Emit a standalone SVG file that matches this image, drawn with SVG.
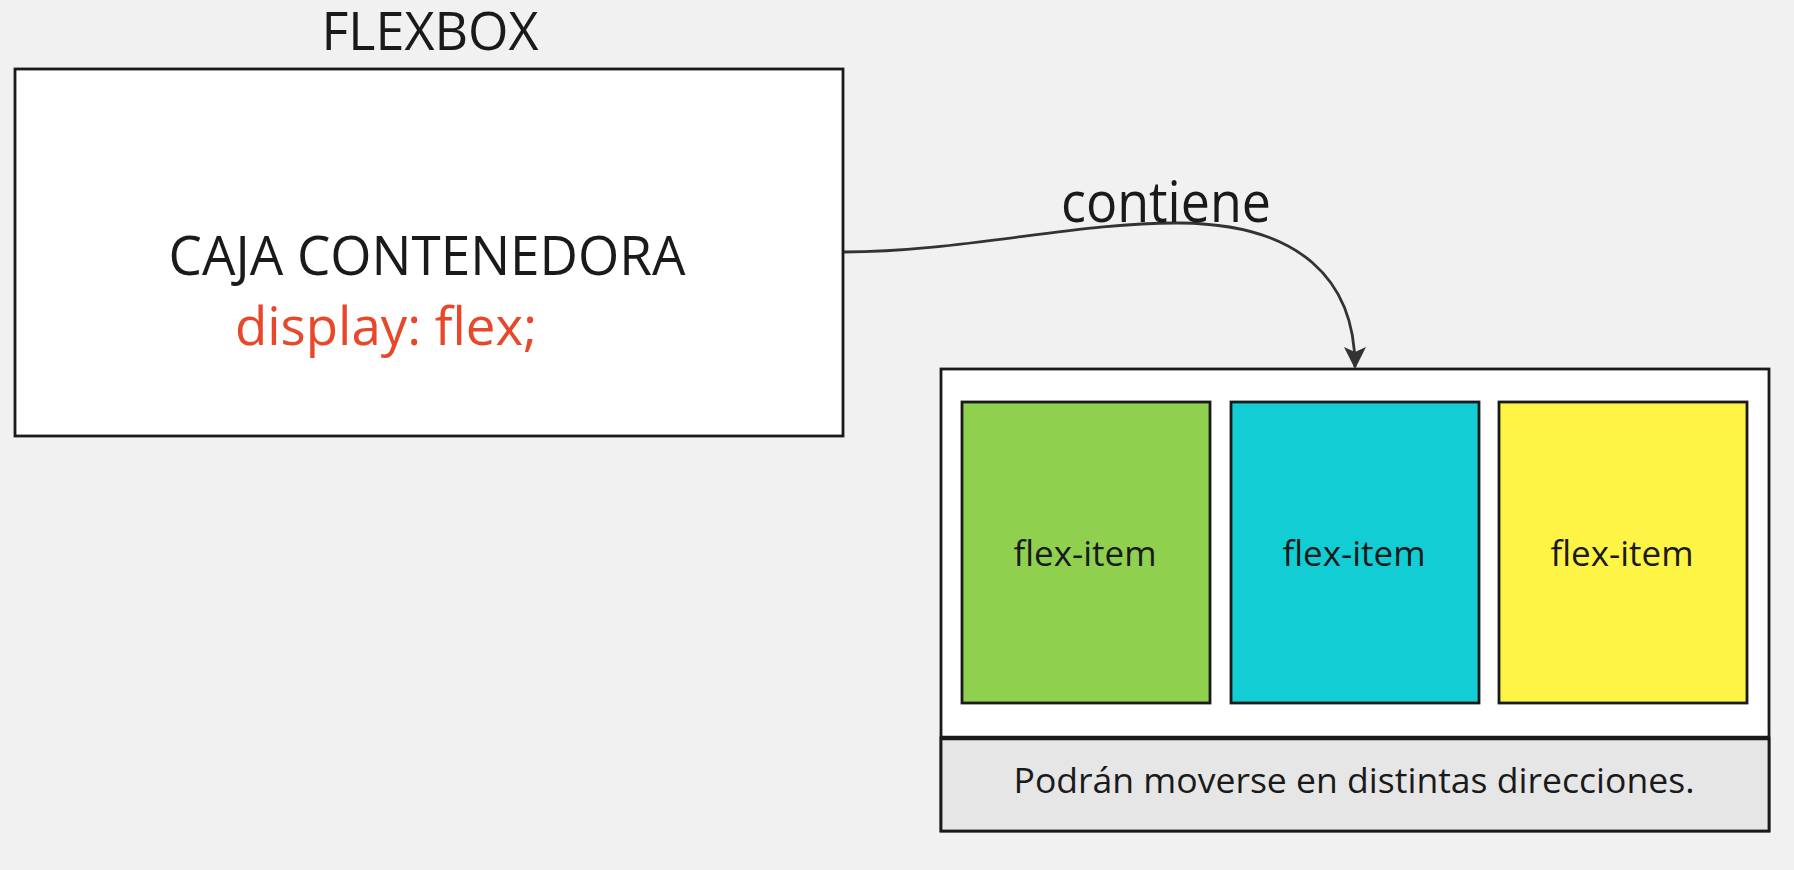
<svg xmlns="http://www.w3.org/2000/svg" width="1794" height="870" viewBox="0 0 1794 870">
<style>
.t{font-family:"Open Sans","Liberation Sans",sans-serif;fill:#1a1a1a;text-anchor:middle}
.box{stroke:#1a1a1a;stroke-width:2.8}
.conn{fill:none;stroke:#333;stroke-width:2.8}
</style>
<defs>
<marker id="arr" viewBox="0 0 22 22" refX="20" refY="11" markerWidth="22" markerHeight="22" markerUnits="userSpaceOnUse" orient="auto">
<path d="M0,0 L22,11 L0,22 L5,11 Z" fill="#333"/>
</marker>
</defs>
<rect width="1794" height="870" fill="#f1f1f1"/>
<g id="title"><text class="t" x="430" y="50" font-size="53" textLength="217" lengthAdjust="spacingAndGlyphs">FLEXBOX</text></g>
<g id="caja">
<rect class="box" x="15" y="69" width="828" height="367" fill="#ffffff"/>
<text class="t" x="427" y="275" font-size="55" textLength="517" lengthAdjust="spacingAndGlyphs">CAJA CONTENEDORA</text>
<text x="235" y="345" font-family="'Open Sans','Liberation Sans',sans-serif" font-size="53" fill="#e8472a" textLength="302" lengthAdjust="spacingAndGlyphs">display: flex;</text>
</g>
<g id="connectors">
<path class="conn" d="M844,252 C960,252 1080,222 1180,223 C1300,224 1355,280 1355,367" marker-end="url(#arr)"/>
<text class="t" x="1166" y="222" font-size="56" textLength="210" lengthAdjust="spacingAndGlyphs">contiene</text>
</g>
<g id="contenedor">
<rect class="box" x="941" y="369" width="828" height="462" fill="#ffffff"/>
<rect x="941" y="738" width="828" height="93" fill="#e6e6e6" stroke="#1a1a1a" stroke-width="2.8"/>
<line x1="941" y1="738" x2="1769" y2="738" stroke="#1a1a1a" stroke-width="4.5"/>
<text class="t" x="1354" y="793" font-size="34" textLength="681" lengthAdjust="spacingAndGlyphs">Podrán moverse en distintas direcciones.</text>
</g>
<g id="item1">
<rect class="box" x="962" y="402" width="248" height="301" fill="#8fd14f"/>
<text class="t" x="1085" y="566" font-size="35" textLength="143" lengthAdjust="spacingAndGlyphs">flex-item</text>
</g>
<g id="item2">
<rect class="box" x="1231" y="402" width="248" height="301" fill="#12cdd4"/>
<text class="t" x="1354" y="566" font-size="35" textLength="143" lengthAdjust="spacingAndGlyphs">flex-item</text>
</g>
<g id="item3">
<rect class="box" x="1499" y="402" width="248" height="301" fill="#fef445"/>
<text class="t" x="1622" y="566" font-size="35" textLength="143" lengthAdjust="spacingAndGlyphs">flex-item</text>
</g>
</svg>
